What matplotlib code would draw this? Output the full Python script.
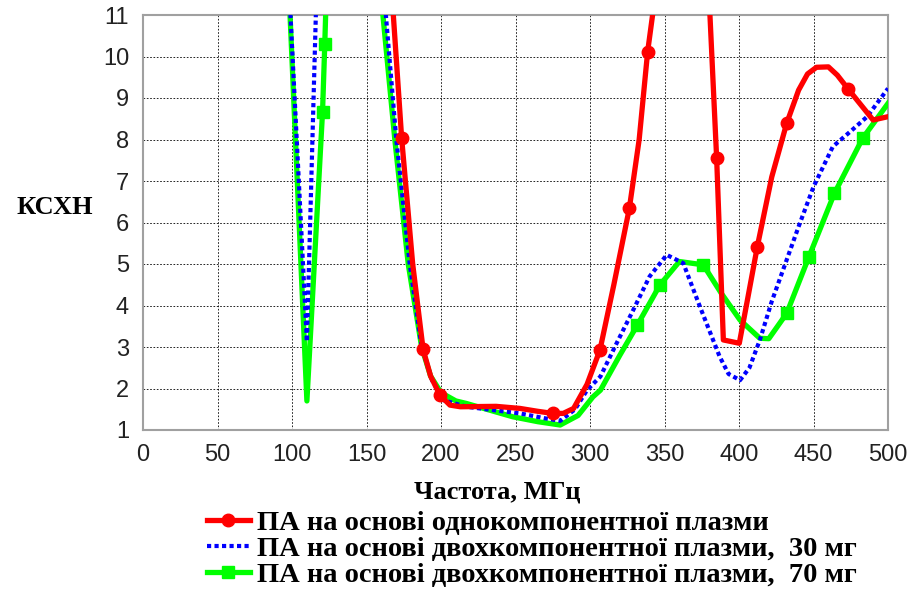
import matplotlib
matplotlib.use("Agg")
import matplotlib.pyplot as plt

# частоти (МГц) і КСХН для трьох кривих
red_x = [164, 168, 173.6, 181, 188, 193, 199.3, 206, 213, 237, 253, 265, 275, 282, 289, 298,
         306.7, 316, 326.4, 333, 338.7, 342, 361, 380.5, 385, 389.5, 400.2, 406, 412.3, 422,
         432, 440, 446, 452, 460, 466, 473.4, 490, 500]
red_y = [13, 11, 8.03, 5, 2.94, 2.3, 1.84, 1.6, 1.56, 1.57, 1.52, 1.45, 1.40, 1.4, 1.52, 2.1,
         2.93, 4.5, 6.34, 8, 10.12, 11, 30, 11, 7.55, 3.17, 3.09, 4.2, 5.42, 7.1,
         8.39, 9.19, 9.58, 9.74, 9.75, 9.55, 9.21, 8.47, 8.55]
red_marks = [2, 4, 6, 12, 16, 18, 20, 24, 28, 30, 36]

blue_x = [97, 110, 116, 118, 140, 158, 163, 170, 179, 187, 194, 201.5, 217, 253, 270, 280, 290,
          298, 307, 318, 329, 340, 351.5, 362.6, 373.8, 387, 393, 400.7, 407, 414, 422, 432,
          440, 450, 463, 475, 486, 500]
blue_y = [12.4, 3.13, 11, 12.5, 20, 13.5, 11, 8, 5, 3, 2.2, 1.72, 1.56, 1.40, 1.28, 1.22, 1.5,
          1.96, 2.29, 3.1, 3.89, 4.7, 5.22, 5.02, 3.97, 2.77, 2.35, 2.2, 2.5, 3.17, 4.1, 5.1,
          5.9, 6.86, 7.83, 8.2, 8.55, 9.23]

green_x = [96, 110, 120.5, 122, 123, 126, 140, 156, 161, 169, 178, 187, 193, 200, 210, 217, 248,
           265, 280, 292, 302, 307, 320, 331.8, 347, 360, 376, 388, 400.7, 414, 420, 432,
           447, 464, 483, 500]
green_y = [13.2, 1.7, 8.67, 10.3, 11.5, 13.5, 20, 13, 11, 8, 5, 3, 2.3, 1.9, 1.7, 1.64, 1.32,
           1.2, 1.12, 1.35, 1.8, 1.96, 2.8, 3.53, 4.5, 5.06, 4.98, 4.3, 3.65, 3.21, 3.2, 3.81,
           5.18, 6.7, 8.03, 8.87]
green_marks = [2, 3, 23, 24, 26, 31, 32, 33, 34]

x_ticks = [0, 50, 100, 150, 200, 250, 300, 350, 400, 450, 500]
y_ticks = [1, 2, 3, 4, 5, 6, 7, 8, 9, 10, 11]

labels = ["ПА на основі однокомпонентної плазми",
          "ПА на основі двохкомпонентної плазми,  30 мг",
          "ПА на основі двохкомпонентної плазми,  70 мг"]

fig = plt.figure(figsize=(9.13, 5.89), dpi=100)
ax = fig.add_axes([143 / 913, 1 - 430 / 589, 745 / 913, 415 / 589])

l1, = ax.plot(red_x, red_y, color="#ff0000", lw=3.8, marker="o", ms=9,
              markevery=red_marks, zorder=5)
l2, = ax.plot(blue_x, blue_y, color="#0000ff", lw=3.0, linestyle=(0, (1, 0.8)), zorder=4)
l3, = ax.plot(green_x, green_y, color="#00ff00", lw=3.8, marker="s", ms=8.5,
              markevery=green_marks, zorder=3)

ax.set_xlim(0, 500)
ax.set_ylim(1, 11)
ax.set_xticks(x_ticks)
ax.set_yticks(y_ticks)
ax.tick_params(length=0, labelsize=17, pad=10, labelcolor="#222222")
for lab in ax.get_xticklabels() + ax.get_yticklabels():
    lab.set_family("Liberation Sans")
ax.grid(True, color="black", linestyle=(0, (2, 2)), lw=0.6)
for s in ax.spines.values():
    s.set_color("#a0a0a0")
    s.set_linewidth(1.5)

fig.text(55 / 913, 1 - 207 / 589, "КСХН", family="Liberation Serif", weight="bold",
         fontsize=19, ha="center", va="center")
fig.text(497 / 913, 1 - 492 / 589, "Частота, МГц", family="Liberation Serif", weight="bold",
         fontsize=19, ha="center", va="center")

fig.legend([l1, l2, l3], labels, loc="upper left", bbox_to_anchor=(207 / 913, 1 - 510 / 589),
           frameon=False, numpoints=1, handlelength=1.5, handletextpad=0.25, labelspacing=0.0,
           borderpad=0, borderaxespad=0,
           prop={"family": "Liberation Serif", "weight": "bold", "size": 20.5})

fig.savefig("out.png", dpi=100)
